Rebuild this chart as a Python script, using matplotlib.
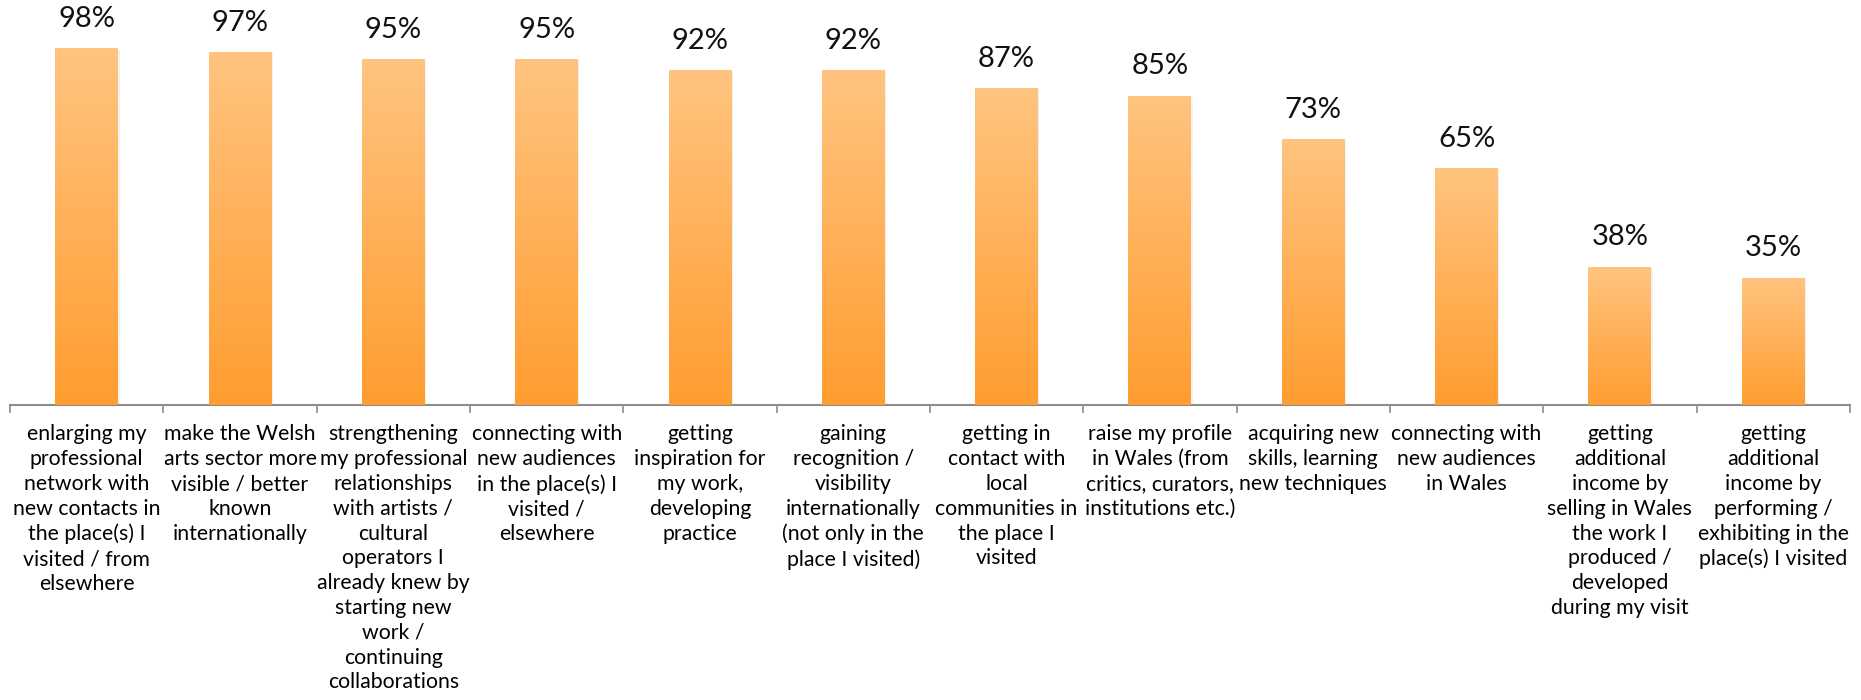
import numpy as np
import matplotlib
matplotlib.use('Agg')
import matplotlib.pyplot as plt
import matplotlib.patheffects as pe
from matplotlib.colors import LinearSegmentedColormap

plt.rcParams['font.family'] = ['Lato', 'DejaVu Sans']

categories = [
    "enlarging my\nprofessional\nnetwork with\nnew contacts in\nthe place(s) I\nvisited / from\nelsewhere",
    "make the Welsh\narts sector more\nvisible / better\nknown\ninternationally",
    "strengthening\nmy professional\nrelationships\nwith artists /\ncultural\noperators I\nalready knew by\nstarting new\nwork /\ncontinuing\ncollaborations",
    "connecting with\nnew audiences\nin the place(s) I\nvisited /\nelsewhere",
    "getting\ninspiration for\nmy work,\ndeveloping\npractice",
    "gaining\nrecognition /\nvisibility\ninternationally\n(not only in the\nplace I visited)",
    "getting in\ncontact with\nlocal\ncommunities in\nthe place I\nvisited",
    "raise my profile\nin Wales (from\ncritics, curators,\ninstitutions etc.)",
    "acquiring new\nskills, learning\nnew techniques",
    "connecting with\nnew audiences\nin Wales",
    "getting\nadditional\nincome by\nselling in Wales\nthe work I\nproduced /\ndeveloped\nduring my visit",
    "getting\nadditional\nincome by\nperforming /\nexhibiting in the\nplace(s) I visited",
]
values = [0.98, 0.97, 0.95, 0.95, 0.92, 0.92, 0.87, 0.85, 0.73, 0.65, 0.38, 0.35]

fig = plt.figure(figsize=(18.61, 7.0), dpi=100)
ax = fig.add_axes([0.0054, 0.4214, 0.9886, 0.52])

x = np.arange(len(values))
bars = ax.bar(x, values, width=0.41, color='#FFB25E', zorder=2)

# vertical orange gradient inside each bar, light at top, darker at base
cmap = LinearSegmentedColormap.from_list('orange', ['#FF9D30', '#FFC480'])
grad = np.linspace(0, 1, 256).reshape(-1, 1)
for b in bars:
    b.set_path_effects([pe.SimplePatchShadow(offset=(1, -1), shadow_rgbFace='#aaaaaa', alpha=0.15),
                        pe.Normal()])
    x0, y0 = b.get_x(), b.get_y()
    w, h = b.get_width(), b.get_height()
    im = ax.imshow(grad, cmap=cmap, aspect='auto', origin='lower',
                   extent=[x0, x0 + w, y0, y0 + h], zorder=3)
    im.set_clip_path(b)

for xi, v in zip(x, values):
    ax.text(xi, v + 0.045, f"{int(round(v * 100))}%", ha='center', va='bottom',
            fontsize=21, color='#111111')

ax.set_xlim(-0.5, len(values) - 0.5)
ax.set_ylim(0, 1.0)
ax.set_yticks([])

ax.set_xticks(x)
ax.set_xticklabels(categories, fontsize=15.3, linespacing=1.3, va='top', ha='center')
ax.set_xticks(np.arange(len(values) + 1) - 0.5, minor=True)
ax.tick_params(axis='x', which='major', length=0, pad=14)
ax.tick_params(axis='x', which='minor', length=6, width=1.2, color='#8c8c8c')

for s in ['top', 'right', 'left']:
    ax.spines[s].set_visible(False)
ax.spines['bottom'].set_color('#8c8c8c')
ax.spines['bottom'].set_linewidth(1.5)

fig.savefig('out.png', dpi=100)
